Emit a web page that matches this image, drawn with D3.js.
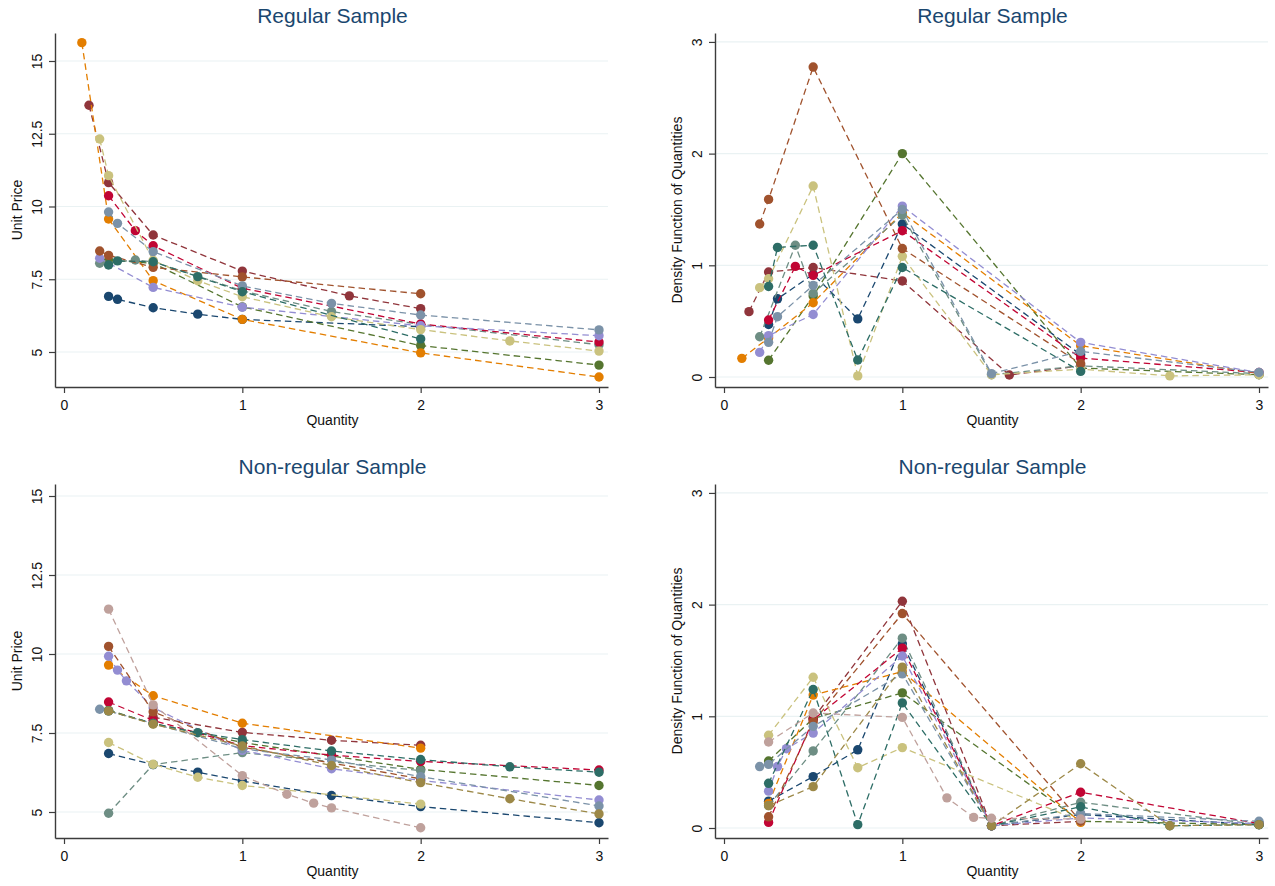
<!DOCTYPE html>
<html>
<head>
<meta charset="utf-8">
<script src="https://cdn.jsdelivr.net/npm/d3@7"></script>
<style>
  html, body { margin: 0; padding: 0; background: #ffffff; }
  svg { display: block; font-family: "Liberation Sans", Arial, sans-serif; }
</style>
</head>
<body>
<svg id="chart" width="1275" height="886"></svg>
<script>
// ---------------- DATA ----------------
const xTicks = [0, 1, 2, 3];
const priceTicks = [5, 7.5, 10, 12.5, 15];
const priceTickLabels = ["5", "7.5", "10", "12.5", "15"];
const densityTicks = [0, 1, 2, 3];
const densityTickLabels = ["0", "1", "2", "3"];

const panelTitles = ["Regular Sample", "Regular Sample", "Non-regular Sample", "Non-regular Sample"];
const xTitle = "Quantity";
const priceTitle = "Unit Price";
const densityTitle = "Density Function of Quantities";

// series colour keys (Stata s2color palette names)
const regularSeries = ["navy", "maroon", "forest", "orange", "teal", "cranberry", "lavender", "khaki", "sienna", "emidblue", "emerald"];
const nonRegularSeries = ["navy", "maroon", "forest", "orange", "teal", "cranberry", "lavender", "khaki", "sienna", "emidblue", "emerald", "brown", "erose"];

// Regular sample: unit price
const regPriceQty = [
  [0.25, 0.3, 0.5, 0.75, 1, 2],
  [0.14, 0.25, 0.5, 1, 1.6, 2],
  [0.25, 0.5, 1, 2, 3],
  [0.1, 0.25, 0.5, 1, 2, 3],
  [0.2, 0.4, 0.5, 1, 1.5, 2, 3],
  [0.25, 0.4, 0.5, 1, 2, 3],
  [0.2, 0.5, 1, 2, 3],
  [0.2, 0.25, 0.5, 0.75, 1, 1.5, 2, 2.5, 3],
  [0.2, 0.25, 0.5, 1, 2],
  [0.25, 0.3, 0.5, 1, 1.5, 2, 3],
  [0.25, 0.3, 0.5, 0.75, 1, 2]
];
const regPriceVal = [
  [6.91, 6.81, 6.52, 6.30, 6.12, 5.87],
  [13.48, 10.82, 9.02, 7.78, 6.93, 6.49],
  [8.15, 8.05, 6.55, 5.22, 4.55],
  [15.63, 9.57, 7.45, 6.12, 4.97, 4.14],
  [8.05, 8.16, 8.1, 7.1, 6.39, 5.95, 5.25],
  [10.37, 9.17, 8.65, 7.19, 5.96, 5.34],
  [8.22, 7.22, 6.54, 5.9, 5.56],
  [12.32, 11.06, 8.15, 7.45, 6.9, 6.21, 5.77, 5.38, 5.03],
  [8.47, 8.32, 7.91, 7.58, 7.0],
  [9.81, 9.42, 8.45, 7.27, 6.67, 6.27, 5.76],
  [7.99, 8.13, 8.1, 7.59, 7.07, 5.45]
];

// Regular sample: density of quantities
const regDensQty = [
  [0.25, 0.3, 0.5, 0.75, 1, 2],
  [0.14, 0.25, 0.5, 1, 1.6, 2],
  [0.25, 0.5, 1, 2, 3],
  [0.1, 0.25, 0.5, 1, 2, 3],
  [0.2, 0.4, 0.5, 1, 1.5, 2, 3],
  [0.25, 0.4, 0.5, 1, 2, 3],
  [0.2, 0.25, 0.5, 1, 2, 3],
  [0.2, 0.25, 0.5, 0.75, 1, 1.5, 2, 2.5, 3],
  [0.2, 0.25, 0.5, 1, 2],
  [0.25, 0.3, 0.5, 1, 1.5, 2, 3],
  [0.25, 0.3, 0.5, 0.75, 1, 2]
];
const regDensVal = [
  [0.47, 0.70, 0.92, 0.52, 1.37, 0.20],
  [0.585, 0.94, 0.98, 0.86, 0.018, 0.10],
  [0.15, 0.725, 2.0, 0.08, 0.02],
  [0.167, 0.35, 0.665, 1.47, 0.28, 0.03],
  [0.36, 1.18, 0.75, 1.45, 0.02, 0.10, 0.03],
  [0.51, 0.99, 0.91, 1.31, 0.17, 0.04],
  [0.22, 0.37, 0.56, 1.53, 0.31, 0.04],
  [0.80, 0.88, 1.71, 0.01, 1.08, 0.02, 0.07, 0.01, 0.02],
  [1.37, 1.59, 2.775, 1.15, 0.12],
  [0.31, 0.54, 0.82, 1.50, 0.03, 0.23, 0.04],
  [0.81, 1.16, 1.18, 0.152, 0.98, 0.05]
];

// Non-regular sample: unit price
const nonPriceQty = [
  [0.25, 0.5, 0.75, 1, 1.5, 2, 3],
  [0.5, 1, 1.5, 2],
  [0.25, 0.5, 1, 2, 3],
  [0.25, 0.5, 1, 2],
  [0.25, 0.5, 1, 2],
  [0.25, 0.5, 1, 1.5, 2, 3],
  [0.25, 0.3, 0.35, 0.5, 1, 1.5, 2, 3],
  [0.25, 0.5, 0.75, 1, 2],
  [0.25, 0.5, 1, 2],
  [0.2, 0.25, 0.5, 1, 1.5, 2, 3],
  [0.25, 0.5, 0.75, 1, 1.5, 2, 2.5, 3],
  [0.25, 0.5, 1, 1.5, 2, 2.5, 3],
  [0.25, 0.5, 1, 1.25, 1.4, 1.5, 2]
];
const nonPriceVal = [
  [6.85, 6.5, 6.26, 5.98, 5.52, 5.17, 4.66],
  [8.0, 7.52, 7.27, 7.11],
  [8.22, 7.8, 7.2, 6.35, 5.84],
  [9.65, 8.68, 7.81, 7.02],
  [4.96, 6.5, 6.88, 6.31],
  [8.48, 7.9, 7.1, 6.8, 6.6, 6.33],
  [9.93, 9.49, 9.15, 8.3, 6.95, 6.37, 6.0, 5.38],
  [7.2, 6.51, 6.10, 5.84, 5.25],
  [10.24, 8.17, 7.05, 6.05],
  [8.25, 8.2, 7.8, 7.0, 6.65, 6.12, 5.19],
  [8.2, 7.8, 7.51, 7.29, 6.93, 6.66, 6.43, 6.26],
  [8.2, 7.78, 7.09, 6.47, 5.93, 5.42, 4.94],
  [11.42, 8.39, 6.15, 5.56, 5.28, 5.13, 4.50]
];

// Non-regular sample: density of quantities
const nonDensQty = [
  [0.25, 0.5, 0.75, 1, 1.5, 2, 3],
  [0.5, 1, 1.5, 2],
  [0.25, 0.5, 1, 2, 3],
  [0.25, 0.5, 1, 2],
  [0.25, 0.5, 1, 1.5, 2, 3],
  [0.25, 0.5, 1, 1.5, 2, 3],
  [0.25, 0.3, 0.35, 0.5, 1, 1.5, 2, 3],
  [0.25, 0.5, 0.75, 1, 2],
  [0.25, 0.5, 1, 2],
  [0.2, 0.25, 0.5, 1, 1.5, 2, 3],
  [0.25, 0.5, 0.75, 1, 1.5, 2, 2.5, 3],
  [0.25, 0.5, 1, 1.5, 2, 2.5, 3],
  [0.25, 0.5, 1, 1.25, 1.4, 1.5, 2]
];
const nonDensVal = [
  [0.24, 0.46, 0.70, 1.65, 0.02, 0.12, 0.03],
  [0.98, 2.03, 0.02, 0.06],
  [0.60, 0.98, 1.21, 0.06, 0.03],
  [0.22, 1.19, 1.40, 0.05],
  [0.20, 0.69, 1.70, 0.02, 0.23, 0.03],
  [0.05, 0.97, 1.61, 0.02, 0.32, 0.04],
  [0.33, 0.55, 0.71, 0.85, 1.54, 0.02, 0.09, 0.04],
  [0.83, 1.35, 0.54, 0.72, 0.06],
  [0.10, 0.95, 1.92, 0.06],
  [0.55, 0.57, 0.91, 1.38, 0.02, 0.13, 0.06],
  [0.40, 1.24, 0.03, 1.12, 0.02, 0.19, 0.02, 0.03],
  [0.20, 0.37, 1.44, 0.02, 0.575, 0.02, 0.03],
  [0.77, 1.03, 0.99, 0.27, 0.095, 0.087, 0.08]
];

// ---------------- STYLE ----------------
const palette = {
  navy: "#1a476f", maroon: "#90353b", forest: "#55752f", orange: "#e37e00",
  teal: "#6e8e84", cranberry: "#c10534", lavender: "#938dd2", khaki: "#cac27e",
  sienna: "#a0522d", emidblue: "#7b92a8", emerald: "#2d6d66", brown: "#9c8847",
  erose: "#bfa19c"
};

const svg = d3.select("#chart");

const panels = [
  { left: 55, top: 33, bottom: 387, qty: regPriceQty, val: regPriceVal, series: regularSeries,
    yDomain: [3.797, 15.962], yTicks: priceTicks, yLabels: priceTickLabels, yTitle: priceTitle, title: panelTitles[0] },
  { left: 715, top: 33, bottom: 387, qty: regDensQty, val: regDensVal, series: regularSeries,
    yDomain: [-0.0896, 3.08], yTicks: densityTicks, yLabels: densityTickLabels, yTitle: densityTitle, title: panelTitles[1] },
  { left: 55, top: 484, bottom: 838, qty: nonPriceQty, val: nonPriceVal, series: nonRegularSeries,
    yDomain: [4.177, 15.38], yTicks: priceTicks, yLabels: priceTickLabels, yTitle: priceTitle, title: panelTitles[2] },
  { left: 715, top: 484, bottom: 838, qty: nonDensQty, val: nonDensVal, series: nonRegularSeries,
    yDomain: [-0.0896, 3.08], yTicks: densityTicks, yLabels: densityTickLabels, yTitle: densityTitle, title: panelTitles[3] }
];

const plotW = 553;
const axisColor = "#3c3c3c";

panels.forEach(p => {
  const x = d3.scaleLinear().domain([-0.0505, 3.0505]).range([p.left, p.left + plotW]);
  const y = d3.scaleLinear().domain(p.yDomain).range([p.bottom, p.top]);
  const g = svg.append("g");

  // gridlines
  g.append("g").selectAll("line").data(p.yTicks).join("line")
    .attr("x1", p.left).attr("x2", p.left + plotW)
    .attr("y1", d => y(d)).attr("y2", d => y(d))
    .attr("stroke", "#eaf2f3").attr("stroke-width", 1.2);

  // series
  const line = d3.line().x(d => x(d[0])).y(d => y(d[1]));
  p.series.forEach((key, i) => {
    const pts = p.qty[i].map((q, j) => [q, p.val[i][j]]);
    const col = palette[key];
    g.append("path").datum(pts)
      .attr("d", line).attr("fill", "none")
      .attr("stroke", col).attr("stroke-width", 1.3)
      .attr("stroke-dasharray", "6.5,4");
    g.append("g").selectAll("circle").data(pts).join("circle")
      .attr("cx", d => x(d[0])).attr("cy", d => y(d[1]))
      .attr("r", 4.7).attr("fill", col);
  });

  // x axis
  const xa = g.append("g").attr("transform", `translate(0,${p.bottom})`)
    .call(d3.axisBottom(x).tickValues(xTicks).tickFormat(d3.format("d")).tickSize(6).tickSizeOuter(0));
  xa.select(".domain").attr("stroke", axisColor).attr("stroke-width", 1.4);
  xa.selectAll(".tick line").attr("stroke", axisColor).attr("stroke-width", 1.2);
  xa.selectAll(".tick text").attr("y", 23).attr("dy", 0)
    .attr("font-size", 14).attr("fill", "#111");

  // y axis
  const ya = g.append("g").attr("transform", `translate(${p.left},0)`)
    .call(d3.axisLeft(y).tickValues(p.yTicks).tickFormat((d, i) => p.yLabels[i]).tickSize(6).tickSizeOuter(0));
  ya.select(".domain").attr("stroke", axisColor).attr("stroke-width", 1.4);
  ya.selectAll(".tick line").attr("stroke", axisColor).attr("stroke-width", 1.2);
  ya.selectAll(".tick text")
    .attr("transform", "rotate(-90)")
    .attr("x", 0).attr("y", -13).attr("dy", 0)
    .attr("text-anchor", "middle")
    .attr("font-size", 14).attr("fill", "#111");

  // titles
  const cx = p.left + plotW / 2 + 1;
  g.append("text").attr("x", cx).attr("y", p.top - 10)
    .attr("text-anchor", "middle").attr("font-size", 21).attr("fill", "#1a476f")
    .text(p.title);
  g.append("text").attr("x", cx).attr("y", p.bottom + 38)
    .attr("text-anchor", "middle").attr("font-size", 14).attr("fill", "#111")
    .text(xTitle);
  const ycy = (p.top + p.bottom) / 2;
  g.append("text").attr("transform", `translate(${p.left - 33},${ycy}) rotate(-90)`)
    .attr("text-anchor", "middle").attr("font-size", 14).attr("fill", "#111")
    .text(p.yTitle);
});
</script>
</body>
</html>
